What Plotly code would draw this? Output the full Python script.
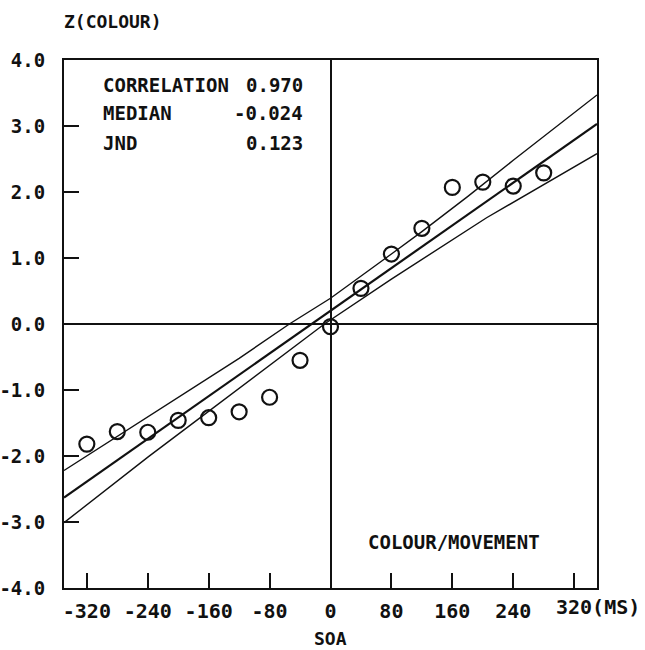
import plotly.graph_objects as go

# data
soa = [-320, -280, -240, -200, -160, -120, -80, -40, 0, 40, 80, 120, 160, 200, 240, 280]
z_colour = [-1.82, -1.63, -1.64, -1.46, -1.42, -1.33, -1.11, -0.55, -0.04,
            0.54, 1.06, 1.45, 2.07, 2.15, 2.09, 2.29]

fit_x = [-350, 350]
fit_y = [-2.63, 3.03]

upper_x = [-350, -239, -120, -54, 0, 80, 120, 180, 240, 350]
upper_y = [-2.22, -1.40, -0.52, 0.0, 0.39, 1.06, 1.40, 1.93, 2.48, 3.47]

lower_x = [-350, -239, -178, -8, 80, 205, 350]
lower_y = [-3.01, -2.01, -1.48, 0.0, 0.68, 1.61, 2.58]

x_ticks = [-320, -240, -160, -80, 0, 80, 160, 240, 320]
x_ticktext = ["-320", "-240", "-160", "-80", "0", "80", "160", "240", ""]
x_last_label = "320(MS)"
y_ticks = [-4, -3, -2, -1, 0, 1, 2, 3, 4]
y_ticktext = ["-4.0", "-3.0", "-2.0", "-1.0", "0.0", "1.0", "2.0", "3.0", "4.0"]

stat_names = ["CORRELATION", "MEDIAN", "JND"]
stat_values = ["0.970", "-0.024", "0.123"]

FONT = "DejaVu Sans Mono"
BLACK = "#111111"

fig = go.Figure()
fig.add_trace(go.Scatter(x=upper_x, y=upper_y, mode="lines",
                         line=dict(color=BLACK, width=1.4), hoverinfo="skip"))
fig.add_trace(go.Scatter(x=lower_x, y=lower_y, mode="lines",
                         line=dict(color=BLACK, width=1.4), hoverinfo="skip"))
fig.add_trace(go.Scatter(x=fit_x, y=fit_y, mode="lines",
                         line=dict(color=BLACK, width=2.2), hoverinfo="skip"))
fig.add_trace(go.Scatter(x=soa, y=z_colour, mode="markers",
                         marker=dict(symbol="circle-open", size=15, color=BLACK,
                                     line=dict(width=2.2, color=BLACK))))

fig.update_layout(
    width=645, height=650,
    margin=dict(l=64, r=48, t=60, b=62, autoexpand=False),
    paper_bgcolor="white", plot_bgcolor="white",
    showlegend=False,
    font=dict(family=FONT, size=19, color=BLACK, weight="bold"),
)
fig.update_xaxes(
    range=[-350, 350], tickvals=x_ticks, ticktext=x_ticktext,
    ticks="inside", ticklen=15, tickwidth=2, tickcolor=BLACK,
    showline=True, linewidth=2, linecolor=BLACK, mirror=True,
    showgrid=False, zeroline=True, zerolinecolor=BLACK, zerolinewidth=1.6,
    tickfont=dict(family=FONT, size=20, weight="bold"), ticklabelstandoff=4,
    automargin=False,
)
fig.update_yaxes(
    range=[-4, 4], tickvals=y_ticks, ticktext=y_ticktext,
    ticks="inside", ticklen=15, tickwidth=2, tickcolor=BLACK,
    showline=True, linewidth=2, linecolor=BLACK, mirror=True,
    showgrid=False, zeroline=True, zerolinecolor=BLACK, zerolinewidth=1.6,
    tickfont=dict(family=FONT, size=19, weight="bold"), ticklabelstandoff=13,
    automargin=False,
)

annos = []
row_y = [3.62, 3.19, 2.74]
for name, val, yy in zip(stat_names, stat_values, row_y):
    annos.append(dict(x=-302, y=yy, xref="x", yref="y", text=name, showarrow=False,
                      xanchor="left", yanchor="middle",
                      font=dict(family=FONT, size=19, weight="bold")))
    annos.append(dict(x=-34, y=yy, xref="x", yref="y", text=val, showarrow=False,
                      xanchor="right", yanchor="middle",
                      font=dict(family=FONT, size=19, weight="bold")))
annos.append(dict(x=162, y=-3.3, xref="x", yref="y", text="COLOUR/MOVEMENT",
                  showarrow=False, xanchor="center", yanchor="middle",
                  font=dict(family=FONT, size=19, weight="bold")))
annos.append(dict(x=0, y=-0.072, xref="x", yref="paper", text="SOA", showarrow=False,
                  xanchor="center", yanchor="top",
                  font=dict(family=FONT, size=18, weight="bold")))
annos.append(dict(x=-0.004, y=1.05, xref="paper", yref="paper", text="Z(COLOUR)",
                  showarrow=False, xanchor="left", yanchor="bottom",
                  font=dict(family=FONT, size=18, weight="bold")))
annos.append(dict(x=x_ticks[-1], y=0, xref="x", yref="paper", text=x_last_label,
                  showarrow=False, xanchor="center", yanchor="top",
                  xshift=24, yshift=-5,
                  font=dict(family=FONT, size=20, weight="bold")))
fig.update_layout(annotations=annos)

fig.write_html("out.html", config={"displayModeBar": False},
               post_script="document.body.style.margin='0px';")
